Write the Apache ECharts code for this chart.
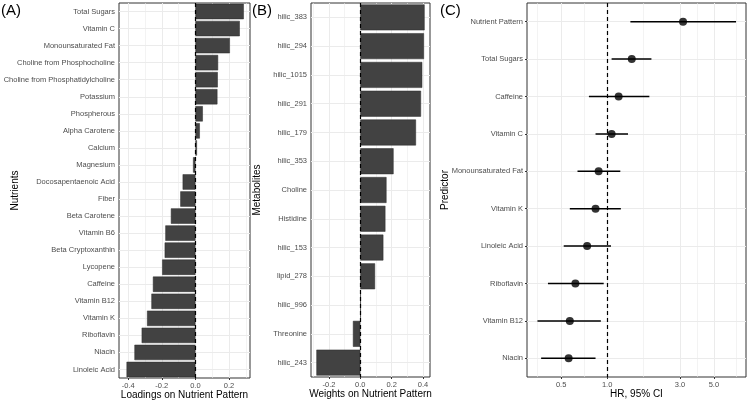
<!DOCTYPE html>
<html>
<head>
<meta charset="utf-8">
<script src="https://cdn.jsdelivr.net/npm/echarts@6/dist/echarts.min.js"></script>
<style>html,body{margin:0;padding:0;background:#fff;}#c{width:750px;height:404px;}</style>
</head>
<body>
<div id="c"></div>
<script>
// Panel A: nutrient loadings
const nutrients = ['Total Sugars','Vitamin C','Monounsaturated Fat','Choline from Phosphocholine','Choline from Phosphatidylcholine','Potassium','Phospherous','Alpha Carotene','Calcium','Magnesium','Docosapentaenoic Acid','Fiber','Beta Carotene','Vitamin B6','Beta Cryptoxanthin','Lycopene','Caffeine','Vitamin B12','Vitamin K','Riboflavin','Niacin','Linoleic Acid'];
const loadings = [0.288, 0.264, 0.205, 0.135, 0.133, 0.131, 0.044, 0.026, 0.009, -0.014, -0.076, -0.090, -0.146, -0.179, -0.183, -0.198, -0.253, -0.262, -0.288, -0.320, -0.363, -0.410];
const loadTicks = [-0.4, -0.2, 0.0, 0.2];
const loadMinor = [-0.3, -0.1, 0.1, 0.3];

// Panel B: metabolite weights
const metabolites = ['hilic_383','hilic_294','hilic_1015','hilic_291','hilic_179','hilic_353','Choline','Histidine','hilic_153','lipid_278','hilic_996','Threonine','hilic_243'];
const weights = [0.410, 0.406, 0.395, 0.387, 0.355, 0.212, 0.167, 0.160, 0.147, 0.094, 0.003, -0.047, -0.280];
const weightTicks = [-0.2, 0.0, 0.2, 0.4];
const weightMinor = [-0.3, -0.1, 0.1, 0.3];

// Panel C: hazard ratios
const predictors = ['Nutrient Pattern','Total Sugars','Caffeine','Vitamin C','Monounsaturated Fat','Vitamin K','Linoleic Acid','Riboflavin','Vitamin B12','Niacin'];
const hr      = [3.14, 1.45, 1.19, 1.07, 0.88, 0.84, 0.74, 0.62, 0.57, 0.56];
const hrLower = [1.42, 1.07, 0.76, 0.84, 0.64, 0.57, 0.52, 0.41, 0.35, 0.37];
const hrUpper = [6.98, 1.95, 1.89, 1.37, 1.22, 1.23, 1.06, 0.95, 0.91, 0.84];
const hrTicks = [0.5, 1.0, 3.0, 5.0];
const hrMinor = [0.354, 0.707, 1.73, 3.87, 7.0];

const FONT = 'Liberation Sans, Arial, Helvetica, sans-serif';
const GRIDC = '#ebebeb';
const tickLab = {fontSize: 7.5, color: '#4d4d4d', fontFamily: FONT};

function gridGrid(idx, majors, minors, cats) {
  const d = [];
  cats.forEach(c => d.push({yAxis: c, lineStyle: {color: GRIDC, width: 1, type: 'solid'}}));
  minors.forEach(v => d.push({xAxis: v, lineStyle: {color: GRIDC, width: 0.6, type: 'solid'}}));
  majors.forEach(v => d.push({xAxis: v, lineStyle: {color: GRIDC, width: 1, type: 'solid'}}));
  return {type: 'line', xAxisIndex: idx, yAxisIndex: idx, data: [], z: 1, silent: true,
    markLine: {z: 1, silent: true, symbol: 'none', label: {show: false}, animation: false, data: d}};
}
function refLine(idx, v) {
  return {type: 'line', xAxisIndex: idx, yAxisIndex: idx, data: [], z: 5, silent: true,
    markLine: {z: 5, silent: true, symbol: 'none', label: {show: false}, animation: false,
      data: [{xAxis: v, lineStyle: {color: '#000', width: 1.2, type: [4, 3]}}]}};
}
function xAx(idx, type, min, max, ticks, name) {
  const a = {gridIndex: idx, type: type, min: min, max: max,
    axisLine: {show: false}, splitLine: {show: false}, minorSplitLine: {show: false},
    axisTick: {show: true, customValues: ticks, length: 2, lineStyle: {color: '#333'}},
    axisLabel: Object.assign({customValues: ticks, margin: 4, formatter: v => Number(v).toFixed(1)}, tickLab),
    name: name, nameLocation: 'middle', nameGap: 12, nameMoveOverlap: false,
    nameTextStyle: {fontSize: 10, color: '#000', fontFamily: FONT}};
  if (type === 'log') a.logBase = 10;
  return a;
}
function yAx(idx, cats, name, gap) {
  return {gridIndex: idx, type: 'category', data: cats, inverse: true,
    axisLine: {show: false}, splitLine: {show: false},
    axisTick: {show: true, alignWithLabel: true, length: 2, lineStyle: {color: '#333'}},
    axisLabel: Object.assign({interval: 0, margin: 4}, tickLab),
    name: name, nameLocation: 'middle', nameGap: gap, nameRotate: 90, nameMoveOverlap: false,
    nameTextStyle: {fontSize: 10, color: '#000', fontFamily: FONT}};
}
const gridBase = {show: true, borderColor: '#333', borderWidth: 1, backgroundColor: '#fff',
  containLabel: false, outerBoundsMode: 'none'};

const option = {
  animation: false,
  textStyle: {fontFamily: FONT},
  title: [
    {text: '(A)', left: 1, top: 3, padding: 0, textStyle: {fontSize: 15, fontWeight: 'normal', color: '#000', fontFamily: FONT}},
    {text: '(B)', left: 252, top: 3, padding: 0, textStyle: {fontSize: 15, fontWeight: 'normal', color: '#000', fontFamily: FONT}},
    {text: '(C)', left: 440, top: 3, padding: 0, textStyle: {fontSize: 15, fontWeight: 'normal', color: '#000', fontFamily: FONT}}
  ],
  grid: [
    Object.assign({left: 119, top: 3, width: 131, height: 375}, gridBase),
    Object.assign({left: 311, top: 3, width: 119, height: 374}, gridBase),
    Object.assign({left: 527, top: 3, width: 219, height: 374}, gridBase)
  ],
  xAxis: [
    xAx(0, 'value', -0.455, 0.325, loadTicks, 'Loadings on Nutrient Pattern'),
    xAx(1, 'value', -0.3145, 0.4445, weightTicks, 'Weights on Nutrient Pattern'),
    xAx(2, 'log', 0.299, 8.11, hrTicks, 'HR, 95% CI')
  ],
  yAxis: [
    yAx(0, nutrients, 'Nutrients', 99),
    yAx(1, metabolites, 'Metabolites', 49),
    yAx(2, predictors, 'Predictor', 77)
  ],
  series: [
    gridGrid(0, loadTicks, loadMinor, nutrients),
    {type: 'bar', xAxisIndex: 0, yAxisIndex: 0, data: loadings, barCategoryGap: '10%', z: 2,
      itemStyle: {color: '#424242', borderColor: '#2b2b2b', borderWidth: 0.5}},
    refLine(0, 0),

    gridGrid(1, weightTicks, weightMinor, metabolites),
    {type: 'bar', xAxisIndex: 1, yAxisIndex: 1, data: weights, barCategoryGap: '10%', z: 2,
      itemStyle: {color: '#424242', borderColor: '#2b2b2b', borderWidth: 0.5}},
    refLine(1, 0),

    gridGrid(2, hrTicks, hrMinor, predictors),
    refLine(2, 1),
    {type: 'custom', xAxisIndex: 2, yAxisIndex: 2, z: 6,
      data: predictors.map((p, i) => [hrLower[i], hrUpper[i], i]),
      encode: {x: [0, 1], y: 2},
      renderItem: function (params, api) {
        const y = api.value(2);
        const p1 = api.coord([api.value(0), y]);
        const p2 = api.coord([api.value(1), y]);
        return {type: 'line', shape: {x1: p1[0], y1: p1[1], x2: p2[0], y2: p2[1]},
          style: {stroke: '#000', lineWidth: 1.5}};
      }},
    {type: 'scatter', xAxisIndex: 2, yAxisIndex: 2, z: 7, symbol: 'circle', symbolSize: 8,
      itemStyle: {color: '#000'},
      data: predictors.map((p, i) => [hr[i], i])}
  ]
};
const chart = echarts.init(document.getElementById('c'), null, {renderer: 'canvas'});
chart.setOption(option);
</script>
</body>
</html>
